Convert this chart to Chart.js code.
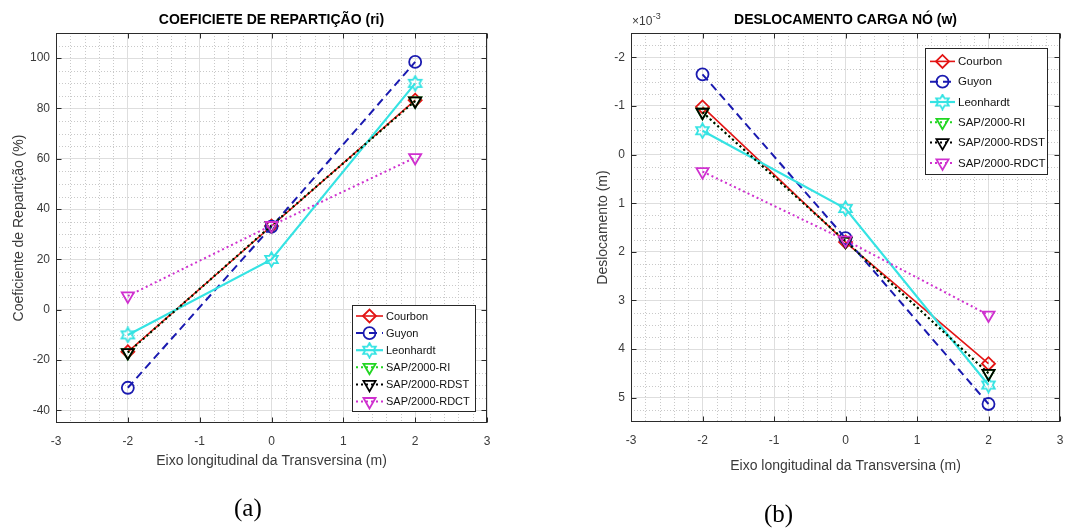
<!DOCTYPE html>
<html>
<head>
<meta charset="utf-8">
<script src="https://cdn.jsdelivr.net/npm/chart.js@4.4.1/dist/chart.umd.min.js"></script>
<style>
  html, body { margin: 0; padding: 0; background: #fff; }
  #wrap { position: relative; width: 1083px; height: 528px; overflow: hidden; }
  #wrap canvas { position: absolute; top: 0; }
  #cA { left: 0; }
  #cB { left: 540px; }
  .cap { position: absolute; font: 25px "Liberation Serif", "Times New Roman", serif; color: #000; line-height: 28px; }
</style>
</head>
<body>
<div id="wrap">
  <canvas id="cA" width="540" height="528"></canvas>
  <canvas id="cB" width="543" height="528"></canvas>
  <div class="cap" style="left:234px; top:494px;">(a)</div>
  <div class="cap" style="left:764px; top:500px;">(b)</div>
</div>
<script>
// ---- data ----
const posicoes = [-2, 0, 2];                 // transverse position of each girder (m)
const xTicks = [-3, -2, -1, 0, 1, 2, 3];
const riTicks = [-40, -20, 0, 20, 40, 60, 80, 100];
const wTicks = [-2, -1, 0, 1, 2, 3, 4, 5];   // ×10^-3 m

const metodos = ['Courbon', 'Guyon', 'Leonhardt', 'SAP/2000-RI', 'SAP/2000-RDST', 'SAP/2000-RDCT'];

// distribution coefficient ri (%)
const riCourbon   = [-16.7, 33.3, 83.3];
const riGuyon     = [-31.0, 33.0, 98.5];
const riLeonhardt = [-10.0, 20.0, 90.0];
const riSapRI     = [-17.0, 33.5, 83.0];
const riSapRDST   = [-17.0, 33.5, 83.0];
const riSapRDCT   = [5.5, 33.5, 60.5];

// nodal displacement w (×10^-3 m, positive downwards)
const wCourbon   = [-0.98, 1.80, 4.30];
const wGuyon     = [-1.65, 1.72, 5.13];
const wLeonhardt = [-0.49, 1.11, 4.74];
const wSapRI     = [-0.87, 1.78, 4.50];
const wSapRDST   = [-0.87, 1.78, 4.50];
const wSapRDCT   = [0.35, 1.76, 3.30];

// ---- styles ----
const FONT = '"Liberation Sans", Arial, Helvetica, sans-serif';
const TXT = '#3a3a3a';

// six-pointed star marker (hexagram)
function hexagram(color, size) {
  const c = document.createElement('canvas');
  c.width = size; c.height = size;
  const g = c.getContext('2d');
  const cx = size / 2, cy = size / 2, R = size / 2 - 1.2, r = R / Math.sqrt(3);
  g.beginPath();
  for (let k = 0; k < 12; k++) {
    const ang = -Math.PI / 2 + k * Math.PI / 6;
    const rad = k % 2 === 0 ? R : r;
    const px = cx + rad * Math.cos(ang), py = cy + rad * Math.sin(ang);
    k === 0 ? g.moveTo(px, py) : g.lineTo(px, py);
  }
  g.closePath();
  g.strokeStyle = color; g.lineWidth = 1.8; g.stroke();
  return c;
}

const estilos = [
  { borderColor: '#e31414', borderWidth: 1.6, borderDash: [], pointStyle: 'rectRot', pointRadius: 6.5, pointRotation: 0 },
  { borderColor: '#1a1ab0', borderWidth: 2, borderDash: [8, 5], pointStyle: 'circle', pointRadius: 6, pointRotation: 0 },
  { borderColor: '#35e3e3', borderWidth: 2.2, borderDash: [], pointStyle: hexagram('#35e3e3', 17), pointRadius: 8, pointRotation: 0 },
  { borderColor: '#22d622', borderWidth: 2, borderDash: [2, 3], pointStyle: 'triangle', pointRadius: 7, pointRotation: 180 },
  { borderColor: '#000000', borderWidth: 2, borderDash: [2, 3], pointStyle: 'triangle', pointRadius: 7, pointRotation: 180 },
  { borderColor: '#cf30cf', borderWidth: 2, borderDash: [2, 3], pointStyle: 'triangle', pointRadius: 7, pointRotation: 180 }
];

function makeDatasets(valores) {
  return metodos.map((nome, i) => {
    const s = estilos[i];
    return {
      label: nome,
      data: posicoes.map((x, j) => ({ x: x, y: valores[i][j] })),
      borderColor: s.borderColor,
      borderWidth: s.borderWidth,
      borderDash: s.borderDash,
      pointStyle: s.pointStyle,
      pointRadius: s.pointRadius,
      pointRotation: s.pointRotation,
      pointBorderColor: s.borderColor,
      pointBackgroundColor: 'rgba(0,0,0,0)',
      pointBorderWidth: 1.8,
      tension: 0,
      fill: false,
      order: metodos.length - i
    };
  });
}

// dotted minor grid
const minorGrid = {
  id: 'minorGrid',
  beforeDatasetsDraw(chart, args, o) {
    const { ctx, chartArea: a, scales: { x, y } } = chart;
    ctx.save();
    ctx.beginPath();
    ctx.rect(a.left, a.top, a.right - a.left, a.bottom - a.top);
    ctx.clip();
    ctx.strokeStyle = '#c9c9c9';
    ctx.lineWidth = 1;
    ctx.setLineDash([1, 2]);
    const isMajor = (v, step) => Math.abs(v / step - Math.round(v / step)) < 1e-6;
    for (let k = Math.ceil(x.min / o.xStep); k * o.xStep <= x.max + 1e-9; k++) {
      const v = k * o.xStep;
      if (isMajor(v, o.xMajor)) continue;
      const px = Math.round(x.getPixelForValue(v)) + 0.5;
      ctx.beginPath(); ctx.moveTo(px, a.top); ctx.lineTo(px, a.bottom); ctx.stroke();
    }
    for (let k = Math.ceil(y.min / o.yStep); k * o.yStep <= y.max + 1e-9; k++) {
      const v = k * o.yStep;
      if (isMajor(v, o.yMajor)) continue;
      const py = Math.round(y.getPixelForValue(v)) + 0.5;
      ctx.beginPath(); ctx.moveTo(a.left, py); ctx.lineTo(a.right, py); ctx.stroke();
    }
    ctx.restore();
  }
};

// axes box with inward tick marks on all four sides
const axesBox = {
  id: 'axesBox',
  afterDatasetsDraw(chart) {
    const { ctx, chartArea: a, scales: { x, y } } = chart;
    ctx.save();
    ctx.strokeStyle = '#2b2b2b';
    ctx.lineWidth = 1;
    ctx.setLineDash([]);
    const L = Math.round(a.left) + 0.5, R = Math.round(a.right) - 0.5;
    const T = Math.round(a.top) + 0.5, B = Math.round(a.bottom) - 0.5;
    ctx.strokeRect(L, T, R - L, B - T);
    const len = 5;
    x.ticks.forEach(t => {
      const px = Math.round(x.getPixelForValue(t.value)) + 0.5;
      ctx.beginPath();
      ctx.moveTo(px, B); ctx.lineTo(px, B - len);
      ctx.moveTo(px, T); ctx.lineTo(px, T + len);
      ctx.stroke();
    });
    y.ticks.forEach(t => {
      const py = Math.round(y.getPixelForValue(t.value)) + 0.5;
      ctx.beginPath();
      ctx.moveTo(L, py); ctx.lineTo(L + len, py);
      ctx.moveTo(R, py); ctx.lineTo(R - len, py);
      ctx.stroke();
    });
    ctx.restore();
  }
};

// boxed legend inside the axes
const boxLegend = {
  id: 'boxLegend',
  afterDraw(chart, args, o) {
    const { ctx } = chart;
    ctx.save();
    ctx.fillStyle = '#ffffff';
    ctx.fillRect(o.x, o.y, o.w, o.h);
    ctx.strokeStyle = '#262626';
    ctx.lineWidth = 1;
    ctx.setLineDash([]);
    ctx.strokeRect(Math.round(o.x) + 0.5, Math.round(o.y) + 0.5, o.w, o.h);
    ctx.font = o.fontSize + 'px ' + FONT;
    ctx.textBaseline = 'middle';
    ctx.textAlign = 'left';
    chart.data.datasets.forEach((ds, i) => {
      const cy = o.y + o.first + i * o.row;
      const x0 = o.x + o.lineFrom, x1 = o.x + o.lineTo, xm = (x0 + x1) / 2;
      ctx.strokeStyle = ds.borderColor;
      ctx.lineWidth = ds.borderWidth;
      ctx.setLineDash(ds.borderDash || []);
      ctx.beginPath(); ctx.moveTo(x0, cy); ctx.lineTo(x1, cy); ctx.stroke();
      ctx.setLineDash([]);
      ctx.lineWidth = ds.pointBorderWidth;
      ctx.fillStyle = 'rgba(0,0,0,0)';
      Chart.helpers.drawPoint(ctx, {
        pointStyle: ds.pointStyle, rotation: ds.pointRotation,
        radius: ds.pointRadius, borderWidth: ds.pointBorderWidth
      }, xm, cy);
      ctx.fillStyle = '#111';
      ctx.fillText(ds.label, o.x + o.textAt, cy + 0.5);
    });
    ctx.restore();
  }
};

// axis exponent label (×10^-3)
const exponent = {
  id: 'exponent',
  afterDraw(chart, args, o) {
    if (!o.text) return;
    const { ctx } = chart;
    ctx.save();
    ctx.fillStyle = TXT;
    ctx.textBaseline = 'alphabetic';
    ctx.textAlign = 'left';
    ctx.font = '12px ' + FONT;
    ctx.fillText('×10', o.x, o.y);
    const w = ctx.measureText('×10').width;
    ctx.font = '9px ' + FONT;
    ctx.fillText(o.text, o.x + w + 0.5, o.y - 6);
    ctx.restore();
  }
};

function baseOptions(cfg) {
  return {
    responsive: false,
    animation: false,
    events: [],
    layout: { padding: cfg.padding },
    plugins: {
      legend: { display: false },
      tooltip: { enabled: false },
      title: {
        display: true, text: cfg.title, color: '#000', fullSize: false,
        font: { family: FONT, size: 14, weight: 'bold' },
        padding: { top: 12, bottom: 4.2 }
      },
      minorGrid: cfg.minor,
      boxLegend: cfg.legend,
      exponent: cfg.exponent || {}
    },
    scales: {
      x: {
        type: 'linear', min: -3, max: 3,
        afterBuildTicks: s => { s.ticks = xTicks.map(v => ({ value: v })); },
        afterFit: s => { s.height = cfg.xHeight; },
        ticks: { color: TXT, font: { family: FONT, size: 12 }, padding: 11, maxRotation: 0 },
        grid: { color: '#dedede', drawTicks: false, lineWidth: 1 },
        border: { display: false },
        title: {
          display: true, text: 'Eixo longitudinal da Transversina (m)', color: TXT,
          font: { family: FONT, size: 14 }, padding: { top: 0, bottom: cfg.xTitlePad }
        }
      },
      y: {
        type: 'linear', min: cfg.yMin, max: cfg.yMax, reverse: !!cfg.reverse,
        afterBuildTicks: s => { s.ticks = cfg.yTicks.map(v => ({ value: v })); },
        afterFit: s => { s.width = cfg.yWidth; },
        ticks: { color: TXT, font: { family: FONT, size: 12 }, padding: 6 },
        grid: { color: '#dedede', drawTicks: false, lineWidth: 1 },
        border: { display: false },
        title: {
          display: true, text: cfg.yTitle, color: TXT,
          font: { family: FONT, size: 14 }, padding: { top: cfg.yTitlePad, bottom: 0 }
        }
      }
    }
  };
}

// (a) distribution coefficient
new Chart(document.getElementById('cA'), {
  type: 'line',
  data: { datasets: makeDatasets([riCourbon, riGuyon, riLeonhardt, riSapRI, riSapRDST, riSapRDCT]) },
  options: baseOptions({
    title: 'COEFICIETE DE REPARTIÇÃO (ri)',
    padding: { top: 0, right: 53, bottom: 0, left: 0 },
    xHeight: 105, xTitlePad: 58,
    yWidth: 56, yTitlePad: 10.6,
    yMin: -45, yMax: 110, yTicks: riTicks,
    yTitle: 'Coeficiente de Repartição (%)',
    minor: { xStep: 0.2, xMajor: 1, yStep: 5, yMajor: 20 },
    legend: { x: 352, y: 305, w: 123, h: 106, first: 11, row: 17.1, lineFrom: 4, lineTo: 31, textAt: 34, fontSize: 11 }
  }),
  plugins: [minorGrid, axesBox, boxLegend, exponent]
});

// (b) nodal displacement
new Chart(document.getElementById('cB'), {
  type: 'line',
  data: { datasets: makeDatasets([wCourbon, wGuyon, wLeonhardt, wSapRI, wSapRDST, wSapRDCT]) },
  options: baseOptions({
    title: 'DESLOCAMENTO CARGA NÓ (w)',
    padding: { top: 0, right: 23, bottom: 0, left: 0 },
    xHeight: 106, xTitlePad: 53,
    yWidth: 91, yTitlePad: 54.6,
    yMin: -2.5, yMax: 5.5, reverse: true, yTicks: wTicks,
    yTitle: 'Deslocamento (m)',
    minor: { xStep: 0.2, xMajor: 1, yStep: 0.25, yMajor: 1 },
    legend: { x: 385, y: 48, w: 122, h: 126, first: 13.4, row: 20.3, lineFrom: 5, lineTo: 30, textAt: 33, fontSize: 11.5 },
    exponent: { text: '-3', x: 92, y: 25 }
  }),
  plugins: [minorGrid, axesBox, boxLegend, exponent]
});
</script>
</body>
</html>
